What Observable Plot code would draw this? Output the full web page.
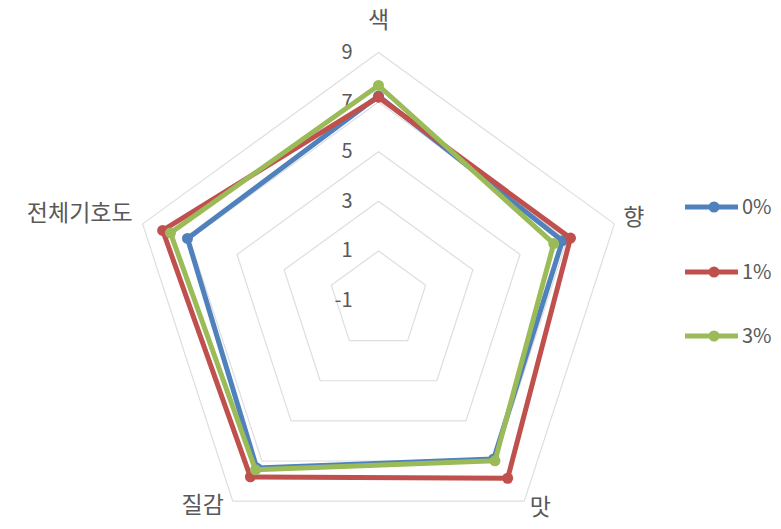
<!DOCTYPE html>
<html>
<head>
<meta charset="utf-8">
<script src="https://cdn.jsdelivr.net/npm/d3@7"></script>
<script src="https://cdn.jsdelivr.net/npm/@observablehq/plot@0.6"></script>
<style>
  html, body { margin: 0; padding: 0; background: #fff; }
  #wrap { position: relative; width: 781px; height: 529px; font-family: "Noto Sans CJK KR", "Noto Sans", sans-serif; }
  #legend { position: absolute; left: 680px; top: 0; width: 101px; height: 529px; }
  .item { position: absolute; left: 0; display: flex; align-items: center; font-size: 20px; color: #595959; }
  .item svg { display: block; margin-right: 2px; }
</style>
</head>
<body>
<div id="wrap"><div id="legend"></div></div>
<script>
// Sensory attributes (clockwise from the top) and scores per sample
const categories = ["색", "향", "맛", "질감", "전체기호도"];
const series = ["0%", "1%", "3%"];
const values0 = [7.25, 6.8, 6.9, 7.35, 7.1];
const values1 = [7.2, 7.14, 7.86, 7.79, 8.15];
const values3 = [7.67, 6.43, 6.99, 7.44, 7.82];
const ticks = [-1, 1, 3, 5, 7, 9];
const colors = ["#4F81BD", "#C0504D", "#9BBB59"];

// Radial axis runs from -1 at the centre to 9 at the outer ring
const rMin = -1, rMax = 9;
const W = 781, H = 529;
const unit = 24.8;               // pixels per score unit
const cx = 378, cy = 300;        // centre of the web in the page

const n = categories.length;
const angle = i => (i * 2 * Math.PI) / n;
const px = (v, i) => (v - rMin) * Math.sin(angle(i));
const py = (v, i) => (v - rMin) * Math.cos(angle(i));

// Rows for the three polygons
const allValues = [values0, values1, values3];
const rows = [];
series.forEach((s, k) => {
  categories.forEach((c, i) => {
    rows.push({series: s, category: c, value: allValues[k][i], x: px(allValues[k][i], i), y: py(allValues[k][i], i)});
  });
});

// Grid rings at every labelled tick above the centre
const rings = [];
ticks.filter(t => t > rMin).forEach(t => {
  categories.forEach((c, i) => rings.push({ring: t, x: px(t, i), y: py(t, i)}));
});

// Category label placement around the outer ring
const labelStyle = [
  {anchor: "middle", dx: 0, dy: -32},
  {anchor: "start", dx: 9, dy: -6},
  {anchor: "middle", dx: 16, dy: 6},
  {anchor: "middle", dx: -30, dy: 4},
  {anchor: "end", dx: -10, dy: -10}
];
const outer = rMax;

const marks = [
  Plot.line(rings, {x: "x", y: "y", z: "ring", curve: "linear-closed", stroke: "#dedede", strokeWidth: 1.2}),
  Plot.text(ticks, {x: 0, y: d => d - rMin, text: d => String(d), textAnchor: "end", dx: -26, fontSize: 20, fill: "#595959"})
];
categories.forEach((c, i) => {
  const st = labelStyle[i];
  marks.push(Plot.text([c], {x: px(outer, i), y: py(outer, i), text: d => d, textAnchor: st.anchor, dx: st.dx, dy: st.dy, fontSize: 23, fill: "#595959", style: {letterSpacing: "3px"}}));
});
series.forEach((s, k) => {
  const data = rows.filter(d => d.series === s);
  marks.push(Plot.line(data, {x: "x", y: "y", curve: "linear-closed", stroke: colors[k], strokeWidth: 5, strokeLinejoin: "round"}));
  marks.push(Plot.dot(data, {x: "x", y: "y", r: 5.5, fill: colors[k], stroke: "none"}));
});

const chart = Plot.plot({
  width: W,
  height: H,
  margin: 0,
  x: {domain: [-cx / unit, (W - cx) / unit], range: [0, W], axis: null},
  y: {domain: [-(H - cy) / unit, cy / unit], range: [H, 0], axis: null},
  style: {fontFamily: "'Noto Sans CJK KR', 'Noto Sans', sans-serif", background: "#fff", overflow: "visible"},
  marks
});
document.getElementById("wrap").prepend(chart);

// Legend: line-with-marker swatches to the right of the web
const legend = document.getElementById("legend");
const legendTops = [191, 256, 320];
series.forEach((s, k) => {
  const item = document.createElement("div");
  item.className = "item";
  item.style.top = legendTops[k] + "px";
  item.innerHTML = `<svg width="60" height="26"><line x1="5" y1="14" x2="58" y2="14" stroke="${colors[k]}" stroke-width="5"/><circle cx="34" cy="14" r="5.5" fill="${colors[k]}"/></svg><span>${s}</span>`;
  legend.appendChild(item);
});
</script>
</body>
</html>
